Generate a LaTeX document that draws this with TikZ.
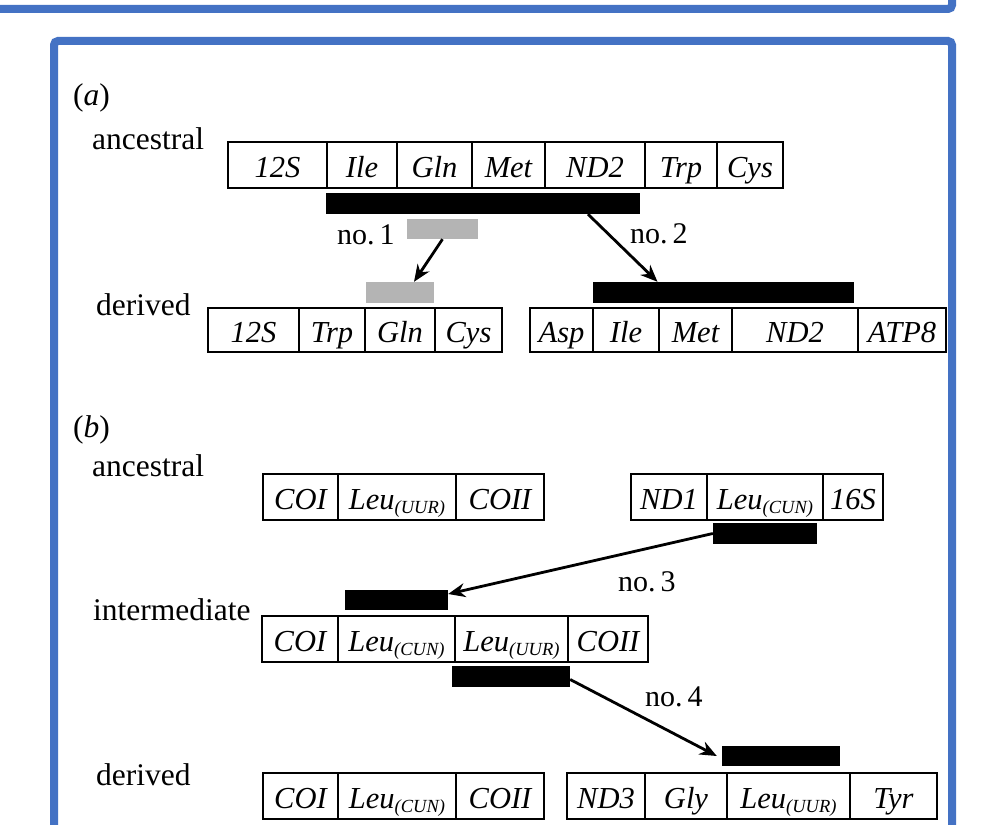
\documentclass[tikz,border=0pt]{standalone}
\usepackage{fontspec}
\setmainfont{Liberation Serif}
\usetikzlibrary{arrows.meta}
\definecolor{frameblue}{RGB}{68,114,196}
\definecolor{bargray}{RGB}{180,180,180}
\newcommand\gcell[6]{\node[cell,minimum width=#4pt,minimum height=#5pt] (#1) at (#2,#3) {#6};}
\newcommand\subsc[1]{\raisebox{-4pt}{\fontsize{18.5}{20}\selectfont\itshape #1}}
\newcommand\leu[1]{Leu\subsc{(#1)}}
\begin{document}
\begin{tikzpicture}[x=1pt,y=-1pt,
  cell/.style={draw=black,line width=2.9pt,inner sep=0pt,text height=25pt,text depth=0pt,
    font=\fontsize{30.5}{34}\selectfont\itshape},
  blackbar/.style={fill=black,draw=none,inner sep=0pt},
  graybar/.style={fill=bargray,draw=none,inner sep=0pt},
  arr/.style={line width=2.8pt,-{Stealth[length=17pt,width=14pt]}},
  lbl/.style={anchor=base west,inner sep=0pt,font=\fontsize{31.5}{36}\selectfont},
  nolbl/.style={anchor=base west,inner sep=0pt,font=\fontsize{30}{34}\selectfont},
  frame/.style={draw=frameblue,line width=8pt,rounded corners=4pt}]
\useasboundingbox (0,0) rectangle (992,824);
\clip (0,0) rectangle (992,824);
\fill[white] (0,0) rectangle (992,824);
% blue frames
\draw[frame] (-60,-100) rectangle (952,9);
\draw[frame] (54,41) rectangle (952,900);

% ---------- (a) ----------
\node[lbl] (la) at (73,106) {(\textit{a})};
\node[lbl] (anca) at (92,149) {ancestral};
\node[lbl] (dera) at (96,315) {derived};

\gcell{a1}{277.5}{165}{99}{46}{12S}
\gcell{a2}{362}{165}{70}{46}{Ile}
\gcell{a3}{434.5}{165}{75}{46}{Gln}
\gcell{a4}{508.5}{165}{73}{46}{Met}
\gcell{a5}{595}{165}{100}{46}{ND2}
\gcell{a6}{681}{165}{72}{46}{Trp}
\gcell{a7}{750}{165}{66}{46}{Cys}

\gcell{d1}{253.5}{330}{91}{44}{12S}
\gcell{d2}{332}{330}{66}{44}{Trp}
\gcell{d3}{400}{330}{70}{44}{Gln}
\gcell{d4}{468.5}{330}{67}{44}{Cys}

\gcell{e1}{561.5}{330}{63}{44}{Asp}
\gcell{e2}{626}{330}{66}{44}{Ile}
\gcell{e3}{695.5}{330}{73}{44}{Met}
\gcell{e4}{795}{330}{126}{44}{ND2}
\gcell{e5}{902}{330}{88}{44}{ATP8}

\node[blackbar,minimum width=314pt,minimum height=21pt] (barA) at (483,203.5) {};
\node[graybar,minimum width=71pt,minimum height=20pt] (g1) at (442.5,229) {};
\node[graybar,minimum width=68pt,minimum height=21pt] (g2) at (400,292.5) {};
\node[blackbar,minimum width=261pt,minimum height=21pt] (barB) at (723.5,292.5) {};

\draw[arr] (g1.south) -- ([xshift=14pt]g2.north);
\draw[arr] ([xshift=105pt]barA.south) -- ([xshift=-66pt]barB.north);
\node[nolbl] (n1) at (337,244) {no.\,1};
\node[nolbl] (n2) at (630,243) {no.\,2};

% ---------- (b) ----------
\node[lbl] (lb) at (73,437) {(\textit{b})};
\node[lbl] (ancb) at (92,476) {ancestral};
\node[lbl] (intb) at (93,620) {intermediate};
\node[lbl] (derb) at (96,785) {derived};

\gcell{p1}{300.5}{497}{75}{46}{COI}
\gcell{p2}{397}{497}{118}{46}{\leu{UUR}}
\gcell{p3}{500}{497}{88}{46}{COII}

\gcell{q1}{669}{497}{76}{46}{ND1}
\gcell{q2}{765}{497}{116}{46}{\leu{CUN}}
\gcell{q3}{853}{497}{60}{46}{16S}

\gcell{i1}{300}{639}{76}{46}{COI}
\gcell{i2}{396.5}{639}{117}{46}{\leu{CUN}}
\gcell{i3}{511.5}{639}{113}{46}{\leu{UUR}}
\gcell{i4}{608}{639}{80}{46}{COII}

\gcell{r1}{300.5}{796}{75}{46}{COI}
\gcell{r2}{397}{796}{118}{46}{\leu{CUN}}
\gcell{r3}{500}{796}{88}{46}{COII}

\gcell{s1}{606}{796}{78}{46}{ND3}
\gcell{s2}{686}{796}{82}{46}{Gly}
\gcell{s3}{788.5}{796}{123}{46}{\leu{UUR}}
\gcell{s4}{893.5}{796}{87}{46}{Tyr}

\node[blackbar,minimum width=104pt,minimum height=21pt] (bar3a) at (765,533.5) {};
\node[blackbar,minimum width=103pt,minimum height=20pt] (bar3b) at (396.5,600) {};
\node[blackbar,minimum width=118pt,minimum height=21pt] (bar4a) at (511,676.5) {};
\node[blackbar,minimum width=118pt,minimum height=20pt] (bar4b) at (781,756) {};

\draw[arr] (bar3a.west) -- ([yshift=6pt]bar3b.east);
\draw[arr] ([yshift=-3pt]bar4a.east) -- ([xshift=-5pt]bar4b.west);
\node[nolbl] (n3) at (618,591) {no.\,3};
\node[nolbl] (n4) at (645,706) {no.\,4};
\end{tikzpicture}
\end{document}
